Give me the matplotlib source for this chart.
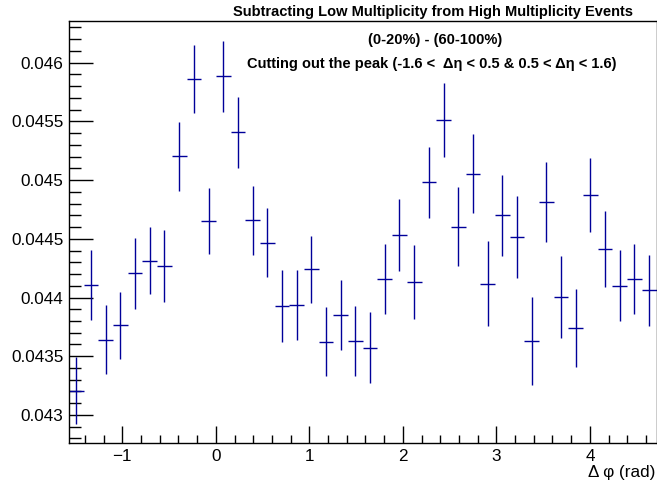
import numpy as np
import matplotlib
matplotlib.use('Agg')
import matplotlib.pyplot as plt
from matplotlib.ticker import MultipleLocator

plt.rcParams['font.family'] = ['Liberation Sans', 'DejaVu Sans']

# 40 bins from -pi/2 to 3pi/2
nbins = 40
edges = np.linspace(-np.pi / 2, 3 * np.pi / 2, nbins + 1)
centers = 0.5 * (edges[:-1] + edges[1:])
half_width = 0.5 * (edges[1] - edges[0])

values = [0.043207, 0.044107, 0.043641, 0.043764, 0.044206, 0.044314, 0.044269, 0.045203,
          0.045861, 0.044655, 0.045884, 0.045407, 0.044658, 0.044467, 0.043931, 0.043937,
          0.044241, 0.043624, 0.043849, 0.043630, 0.043573, 0.044158, 0.044530, 0.044135,
          0.044981, 0.045512, 0.044603, 0.045055, 0.044118, 0.044700, 0.044513, 0.043633,
          0.044811, 0.044007, 0.043743, 0.044873, 0.044416, 0.044101, 0.044155, 0.044062]
errors = [0.000288, 0.000295, 0.000295, 0.000284, 0.000304, 0.000288, 0.000307, 0.000296,
          0.000291, 0.000281, 0.000301, 0.000304, 0.000295, 0.000295, 0.000307, 0.000300,
          0.000287, 0.000292, 0.000298, 0.000298, 0.000300, 0.000298, 0.000307, 0.000315,
          0.000302, 0.000313, 0.000335, 0.000339, 0.000362, 0.000345, 0.000349, 0.000375,
          0.000341, 0.000349, 0.000332, 0.000315, 0.000324, 0.000305, 0.000298, 0.000302]

title = 'Subtracting Low Multiplicity from High Multiplicity Events'
line1 = '(0-20%) - (60-100%)'
line2 = 'Cutting out the peak (-1.6 <  \u0394\u03b7 < 0.5 & 0.5 < \u0394\u03b7 < 1.6)'
xlabel = '\u0394 \u03c6 (rad)'

W, H = 657, 487
fig = plt.figure(figsize=(W / 100, H / 100), dpi=100)
ax = fig.add_axes([69 / W, (H - 443) / H, (656.5 - 69) / W, (443 - 21) / H])

ax.errorbar(centers, values, xerr=half_width, yerr=errors, fmt='none',
            ecolor='#000099', elinewidth=1.0, capsize=0)

ax.set_xlim(edges[0], edges[-1])
ax.set_ylim(0.042761, 0.046355)

ax.xaxis.set_major_locator(MultipleLocator(1))
ax.xaxis.set_minor_locator(MultipleLocator(0.2))
ax.yaxis.set_major_locator(MultipleLocator(0.0005))
ax.yaxis.set_minor_locator(MultipleLocator(0.0001))
ax.yaxis.set_major_formatter(plt.FuncFormatter(lambda v, p: ('%g' % round(v, 5))))
ax.xaxis.set_major_formatter(plt.FuncFormatter(lambda v, p: ('%g' % v).replace('-', '\u2212')))

ax.tick_params(axis='both', which='both', direction='in', top=False, right=False,
               labelsize=12.3, colors='black', width=1)
ax.tick_params(axis='y', which='major', length=17, pad=4)
ax.tick_params(axis='y', which='minor', length=8.5)
ax.tick_params(axis='x', which='major', length=12, pad=4)
ax.tick_params(axis='x', which='minor', length=6)
for s in ax.spines.values():
    s.set_linewidth(1)

fig.text(433 / W, 1 - 12 / H, title, ha='center', va='center', fontsize=10.5, fontweight='bold')
fig.text(435 / W, 1 - 40 / H, line1, ha='center', va='center',
         fontsize=10.5, fontweight='bold')
fig.text(431.5 / W, 1 - 64 / H, line2, ha='center', va='center',
         fontsize=10.5, fontweight='bold')
fig.text(655 / W, 1 - 473 / H, xlabel, ha='right', va='center', fontsize=12.3)

fig.savefig('out.png', dpi=100)
